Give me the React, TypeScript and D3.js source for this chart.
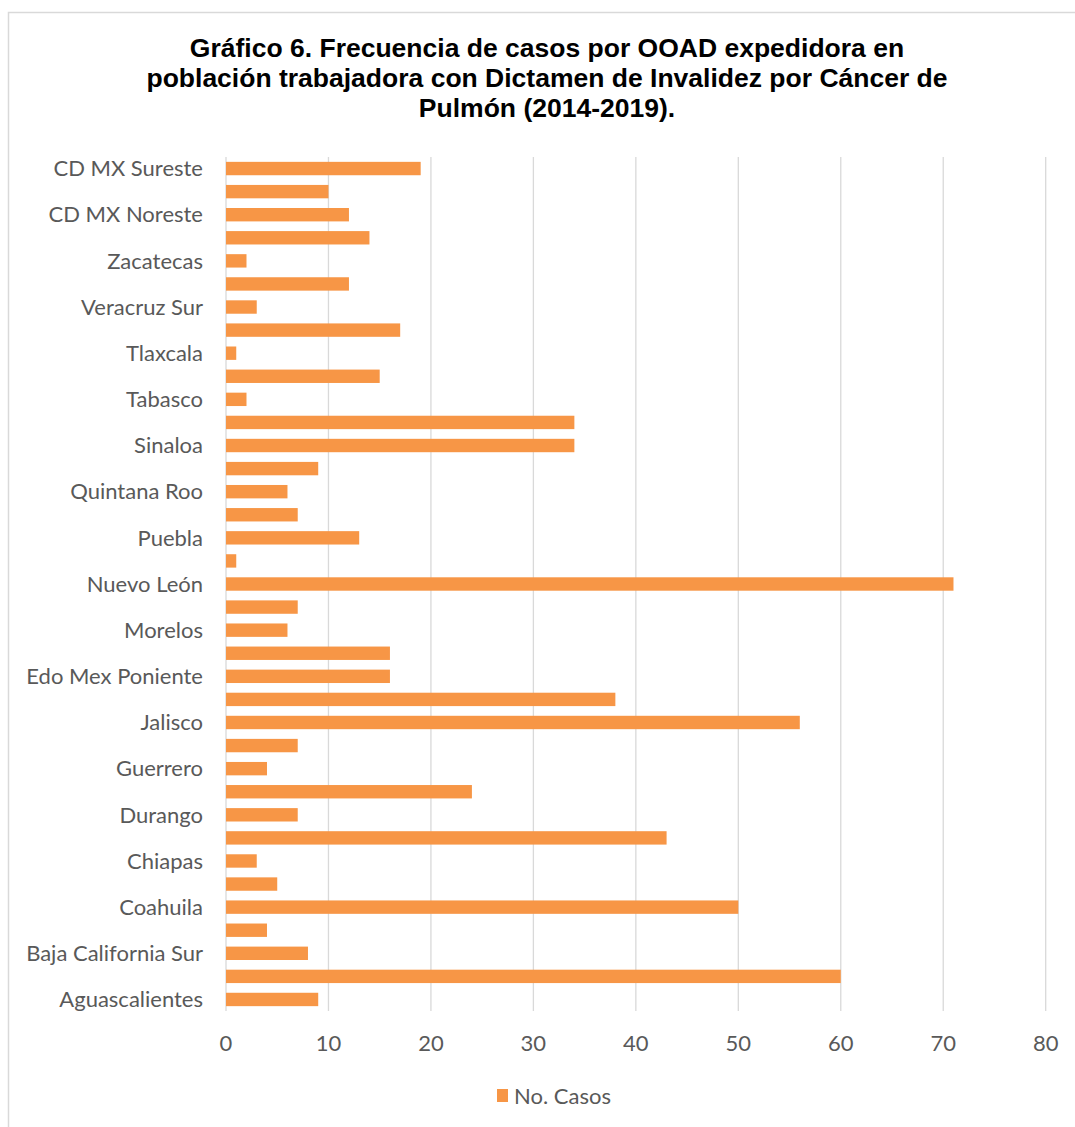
import React from "react";
import * as d3 from "d3";

// Categories listed bottom-to-top as in the source worksheet
const categories: string[] = [
  "Aguascalientes", "Baja California", "Baja California Sur", "Campeche", "Coahuila",
  "Colima", "Chiapas", "Chihuahua", "Durango", "Guanajuato", "Guerrero", "Hidalgo",
  "Jalisco", "Edo Mex Oriente", "Edo Mex Poniente", "Michoacán", "Morelos", "Nayarit",
  "Nuevo León", "Oaxaca", "Puebla", "Querétaro", "Quintana Roo", "San Luis Potosí",
  "Sinaloa", "Sonora", "Tabasco", "Tamaulipas", "Tlaxcala", "Veracruz Norte",
  "Veracruz Sur", "Yucatán", "Zacatecas", "CD MX Noroeste", "CD MX Noreste",
  "CD MX Suroeste", "CD MX Sureste",
];
const casos: number[] = [
  9, 60, 8, 4, 50, 5, 3, 43, 7, 24, 4, 7, 56, 38, 16, 16, 6, 7, 71, 1, 13, 7, 6, 9,
  34, 34, 2, 15, 1, 17, 3, 12, 2, 14, 12, 10, 19,
];
const xTicks: number[] = [0, 10, 20, 30, 40, 50, 60, 70, 80];
const titleLines: string[] = [
  "Gráfico 6. Frecuencia de casos por OOAD expedidora en",
  "población trabajadora con Dictamen de Invalidez por Cáncer de",
  "Pulmón (2014-2019).",
];
const seriesName = "No. Casos";

const W = 1075;
const H = 1127;
const plot = { left: 226, right: 1045.7, top: 157, bottom: 1011 };
const ORANGE = "#F79646";
const GRID = "#D9D9D9";
const TEXT = "#595959";
const LABEL_FONT = "Lato, 'Open Sans', sans-serif";

export default function App() {
  const data = categories.map((c, i) => ({ c, v: casos[i], i }));
  const x = d3.scaleLinear().domain([0, 80]).range([plot.left, plot.right]);
  const y = d3
    .scaleBand<string>()
    .domain([...categories].reverse())
    .range([plot.top, plot.bottom])
    .paddingInner(0.42)
    .paddingOuter(0.21);

  return (
    <svg
      width={W}
      height={H}
      style={{ position: "absolute", left: 0, top: 0, background: "#fff" }}
    >
      <rect x={0} y={0} width={W} height={H} fill="#fff" />
      {/* chart area border */}
      <rect x={8.5} y={12.5} width={W + 20} height={H + 20} fill="none" stroke={GRID} strokeWidth={1.5} />

      {/* title */}
      <g fontFamily="'Liberation Sans', Arial, sans-serif" fontWeight="bold" fontSize={26.5} fill="#000" textAnchor="middle">
        {titleLines.map((t, i) => (
          <text key={i} x={547} y={57 + i * 29.8}>{t}</text>
        ))}
      </g>

      {/* gridlines */}
      <g>
        {xTicks.map((t) => (
          <line key={t} x1={x(t)} x2={x(t)} y1={plot.top} y2={plot.bottom} stroke={GRID} strokeWidth={1.3} />
        ))}
      </g>

      {/* bars */}
      <g>
        {data.map((d) => (
          <rect
            key={d.c}
            x={x(0)}
            y={y(d.c)!}
            width={x(d.v) - x(0)}
            height={y.bandwidth()}
            fill={ORANGE}
          />
        ))}
      </g>

      {/* category labels (every other, as in the original) */}
      <g fontFamily={LABEL_FONT} fontSize={22} fill={TEXT} textAnchor="end">
        {data
          .filter((d) => d.i % 2 === 0)
          .map((d) => (
            <text key={d.c} x={203} y={y(d.c)! + y.bandwidth() / 2} dy="0.35em">
              {d.c}
            </text>
          ))}
      </g>

      {/* x tick labels */}
      <g fontFamily={LABEL_FONT} fontSize={22} fill={TEXT} textAnchor="middle">
        {xTicks.map((t) => (
          <text key={t} x={x(t)} y={1043} dy="0.35em">{t}</text>
        ))}
      </g>

      {/* legend */}
      <g>
        <rect x={497} y={1089} width={11} height={13} fill={ORANGE} />
        <text x={514} y={1096} dy="0.35em" fontFamily={LABEL_FONT} fontSize={22} fill={TEXT}>
          {seriesName}
        </text>
      </g>
    </svg>
  );
}
